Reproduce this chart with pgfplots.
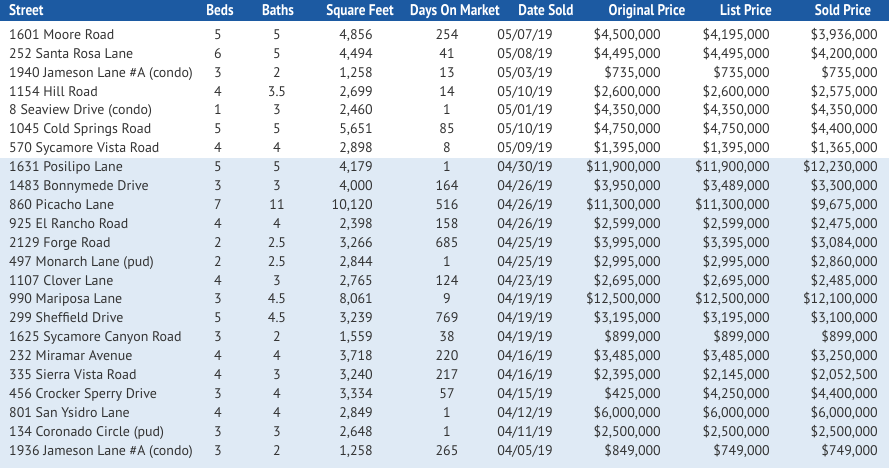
\documentclass[border=0pt]{standalone}
\usepackage{pgfplots}
\usepackage{pgfplotstable}
\pgfplotsset{compat=1.18}
\usepackage{fontspec}
\setmainfont{PT Sans}
\newfontface\hdr[FakeStretch=0.86]{PT Sans Bold}
\definecolor{hdrblue}{HTML}{1C5AA2}
\definecolor{band}{HTML}{DFEAF5}
\definecolor{txt}{HTML}{333333}

\pgfplotstableread[col sep=semicolon, row sep=\\]{
street;beds;baths;sqft;dom;date;orig;list;sold\\
{1601 Moore Road};5;5;4,856;254;05/07/19;\$4,500,000;\$4,195,000;\$3,936,000\\
{252 Santa Rosa Lane};6;5;4,494;41;05/08/19;\$4,495,000;\$4,495,000;\$4,200,000\\
{1940 Jameson Lane \#A (condo)};3;2;1,258;13;05/03/19;\$735,000;\$735,000;\$735,000\\
{1154 Hill Road};4;3.5;2,699;14;05/10/19;\$2,600,000;\$2,600,000;\$2,575,000\\
{8 Seaview Drive (condo)};1;3;2,460;1;05/01/19;\$4,350,000;\$4,350,000;\$4,350,000\\
{1045 Cold Springs Road};5;5;5,651;85;05/10/19;\$4,750,000;\$4,750,000;\$4,400,000\\
{570 Sycamore Vista Road};4;4;2,898;8;05/09/19;\$1,395,000;\$1,395,000;\$1,365,000\\
{1631 Posilipo Lane};5;5;4,179;1;04/30/19;\$11,900,000;\$11,900,000;\$12,230,000\\
{1483 Bonnymede Drive};3;3;4,000;164;04/26/19;\$3,950,000;\$3,489,000;\$3,300,000\\
{860 Picacho Lane};7;11;10,120;516;04/26/19;\$11,300,000;\$11,300,000;\$9,675,000\\
{925 El Rancho Road};4;4;2,398;158;04/26/19;\$2,599,000;\$2,599,000;\$2,475,000\\
{2129 Forge Road};2;2.5;3,266;685;04/25/19;\$3,995,000;\$3,395,000;\$3,084,000\\
{497 Monarch Lane (pud)};2;2.5;2,844;1;04/25/19;\$2,995,000;\$2,995,000;\$2,860,000\\
{1107 Clover Lane};4;3;2,765;124;04/23/19;\$2,695,000;\$2,695,000;\$2,485,000\\
{990 Mariposa Lane};3;4.5;8,061;9;04/19/19;\$12,500,000;\$12,500,000;\$12,100,000\\
{299 Sheffield Drive};5;4.5;3,239;769;04/19/19;\$3,195,000;\$3,195,000;\$3,100,000\\
{1625 Sycamore Canyon Road};3;2;1,559;38;04/19/19;\$899,000;\$899,000;\$899,000\\
{232 Miramar Avenue};4;4;3,718;220;04/16/19;\$3,485,000;\$3,485,000;\$3,250,000\\
{335 Sierra Vista Road};4;3;3,240;217;04/16/19;\$2,395,000;\$2,145,000;\$2,052,500\\
{456 Crocker Sperry Drive};3;4;3,334;57;04/15/19;\$425,000;\$4,250,000;\$4,400,000\\
{801 San Ysidro Lane};4;4;2,849;1;04/12/19;\$6,000,000;\$6,000,000;\$6,000,000\\
{134 Coronado Circle (pud)};3;3;2,648;1;04/11/19;\$2,500,000;\$2,500,000;\$2,500,000\\
{1936 Jameson Lane \#A (condo)};3;2;1,258;265;04/05/19;\$849,000;\$749,000;\$749,000\\
}\data

% one text column: x position, anchor, column name
\newcommand\col[3]{%
  \addplot[draw=none, mark=none, nodes near coords, point meta=explicit symbolic,
    every node near coord/.style={anchor=#2, inner sep=0pt, text=txt, font=\fontsize{14}{16}\selectfont}]
    table[x expr=#1, y expr={39.3+18.9*\coordindex}, meta=#3] {\data};}

\begin{document}
\begin{tikzpicture}
\begin{axis}[
  width=889bp, height=468bp, scale only axis,
  xmin=0, xmax=889, ymin=0, ymax=468, y dir=reverse,
  hide axis, clip=false,
]
\addplot[fill=hdrblue, draw=none] coordinates {(0,0) (889,0) (889,21) (0,21)} -- cycle;
\addplot[fill=band, draw=none] coordinates {(0,158) (889,158) (889,468) (0,468)} -- cycle;

\col{9}{base west}{street}
\col{218}{base}{beds}
\col{277}{base}{baths}
\col{373}{base east}{sqft}
\col{447}{base}{dom}
\col{525}{base}{date}
\col{661}{base east}{orig}
\col{770}{base east}{list}
\col{878}{base east}{sold}

\begin{scope}[every node/.style={text=white, inner sep=0pt, font=\hdr\fontsize{15.5}{17}\selectfont}]
\node[anchor=base west] at (axis cs:9,15.3) {Street};
\node[anchor=base] at (axis cs:220,15.3) {Beds};
\node[anchor=base] at (axis cs:278,15.3) {Baths};
\node[anchor=base] at (axis cs:360,15.3) {Square Feet};
\node[anchor=base] at (axis cs:455,15.3) {Days On Market};
\node[anchor=base] at (axis cs:546,15.3) {Date Sold};
\node[anchor=base] at (axis cs:647,15.3) {Original Price};
\node[anchor=base] at (axis cs:746,15.3) {List Price};
\node[anchor=base] at (axis cs:843,15.3) {Sold Price};
\end{scope}
\end{axis}
\end{tikzpicture}
\end{document}
